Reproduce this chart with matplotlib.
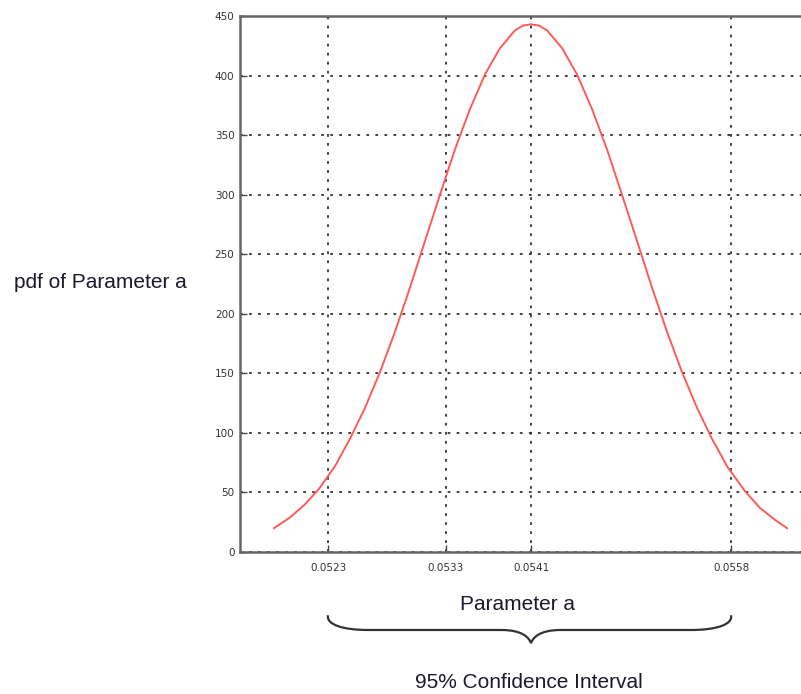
import matplotlib
matplotlib.use("Agg")
import matplotlib.pyplot as plt
from matplotlib.path import Path
from matplotlib.patches import PathPatch
from matplotlib.transforms import blended_transform_factory

# pdf curve
param_a = [0.051849, 0.051989, 0.052120, 0.052243, 0.052383, 0.052514, 0.052646,
           0.052777, 0.052909, 0.053040, 0.053171, 0.053303, 0.053434, 0.053566,
           0.053697, 0.053828, 0.053960, 0.054030, 0.054100, 0.054170, 0.054240,
           0.054372, 0.054503, 0.054634, 0.054766, 0.054897, 0.055029, 0.055160,
           0.055291, 0.055423, 0.055554, 0.055686, 0.055817, 0.055975, 0.056106,
           0.056237, 0.056343]
pdf_a = [20, 29, 40, 53, 72, 95, 121, 151, 185, 222, 261, 300, 338, 372, 401, 423,
         438, 442, 443, 442, 438, 423, 401, 372, 338, 300, 261, 222, 185, 151, 121,
         95, 72, 51, 37, 27, 20]

tick_pos = [0.052322, 0.053355, 0.054100, 0.055852]
tick_labels = ["0.0523", "0.0533", "0.0541", "0.0558"]
y_ticks = [0, 50, 100, 150, 200, 250, 300, 350, 400, 450]
ci_low, ci_mid, ci_high = 0.052322, 0.054100, 0.055852

W, H = 801, 694
fig = plt.figure(figsize=(W / 100, H / 100), dpi=100)
ax = fig.add_axes([240 / W, 142 / H, 561 / W, 536 / H])

ax.plot(param_a, pdf_a, color="#ff5a5a", lw=1.4, solid_joinstyle="round")

ax.set_xlim(0.051551, 0.056465)
ax.set_ylim(0, 450)
ax.set_xticks(tick_pos)
ax.set_xticklabels(tick_labels)
ax.set_yticks(y_ticks)

tick_font = ["Liberation Sans Narrow", "DejaVu Sans"]
for lab in ax.get_xticklabels() + ax.get_yticklabels():
    lab.set_family(tick_font)
    lab.set_fontsize(7.5)
    lab.set_color("#333333")

ax.tick_params(direction="in", length=5, width=1, color="#444444")
ax.tick_params(axis="x", pad=8)
ax.tick_params(axis="y", pad=4)

ax.grid(True, color="#333333", linestyle=(0, (1.5, 3.5)), linewidth=1.3)
for side in ["left", "bottom", "top"]:
    ax.spines[side].set_color("#666666")
    ax.spines[side].set_linewidth(1.8)
ax.spines["right"].set_visible(False)

# curly brace under the axis, spanning the confidence interval
trans = blended_transform_factory(ax.transData, ax.transAxes)
px = 8.76e-6  # data units per pixel
y_end, y_bar, y_tip = -0.118, -0.1455, -0.170
verts = [
    (ci_low, y_end),
    (ci_low - 2 * px, y_bar + 0.01), (ci_low + 15 * px, y_bar), (ci_low + 40 * px, y_bar),
    (ci_mid - 30 * px, y_bar),
    (ci_mid - 8 * px, y_bar), (ci_mid - 2 * px, y_tip + 0.01), (ci_mid, y_tip),
    (ci_mid + 2 * px, y_tip + 0.01), (ci_mid + 8 * px, y_bar), (ci_mid + 30 * px, y_bar),
    (ci_high - 40 * px, y_bar),
    (ci_high - 15 * px, y_bar), (ci_high + 2 * px, y_bar + 0.01), (ci_high, y_end),
]
codes = [Path.MOVETO,
         Path.CURVE4, Path.CURVE4, Path.CURVE4,
         Path.LINETO,
         Path.CURVE4, Path.CURVE4, Path.CURVE4,
         Path.CURVE4, Path.CURVE4, Path.CURVE4,
         Path.LINETO,
         Path.CURVE4, Path.CURVE4, Path.CURVE4]
brace = PathPatch(Path(verts, codes), transform=trans, fill=False,
                  edgecolor="#333333", lw=1.6, clip_on=False)
ax.add_patch(brace)

label_font = ["Liberation Sans", "DejaVu Sans"]
fig.text(517 / W, 1 - 604 / H, "Parameter a", ha="center", va="center",
         fontsize=15, family=label_font, color="#1a1a2a")
fig.text(529 / W, 1 - 682 / H, "95% Confidence Interval", ha="center", va="center",
         fontsize=15, family=label_font, color="#1a1a2a")
fig.text(100 / W, 1 - 282 / H, "pdf of Parameter a", ha="center", va="center",
         fontsize=15, family=label_font, color="#1a1a2a")

fig.savefig("out.png", dpi=100)
